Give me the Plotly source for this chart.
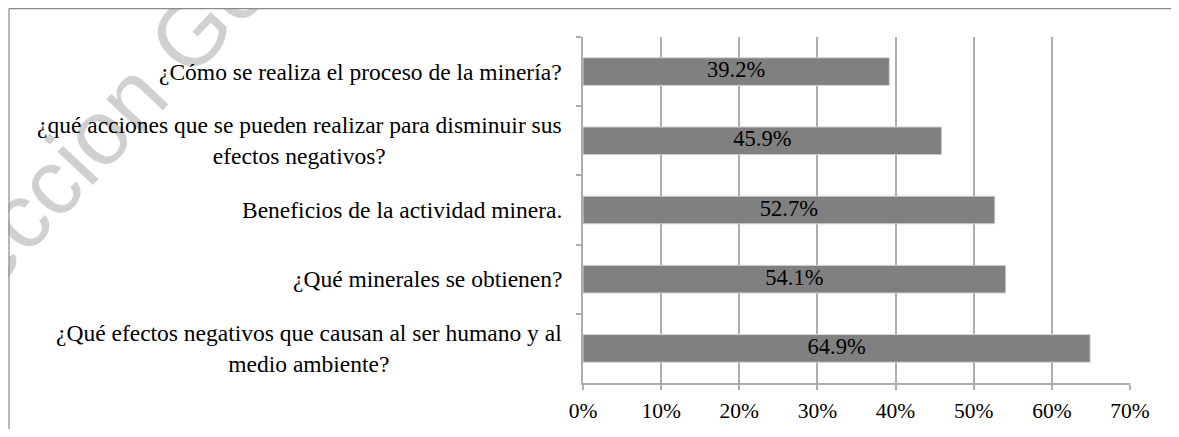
import plotly.graph_objects as go

categories = [
    "¿Cómo se realiza el proceso de la minería?",
    "¿qué acciones que se pueden realizar para disminuir sus<br>efectos negativos?",
    "Beneficios de la actividad minera.",
    "¿Qué minerales se obtienen?",
    "¿Qué efectos negativos que causan al ser humano y al<br>medio ambiente?",
]
values = [39.2, 45.9, 52.7, 54.1, 64.9]
value_labels = [f"{v:.1f}%" for v in values]
x_ticks = [0, 10, 20, 30, 40, 50, 60, 70]
x_tick_labels = [f"{t}%" for t in x_ticks]
watermark_text = "Direccion General"

# the page body adds an 8px margin, so the figure is laid out in page px - 8
OFF = 8
W, H = 1179 - OFF, 437 - 2 * OFF
PLOT_L, PLOT_R, PLOT_T, PLOT_B = 583 - OFF, 1130 - OFF, 37 - OFF, 383 - OFF
ML, MR, MT, MB = PLOT_L, W - PLOT_R, PLOT_T, H - PLOT_B
PW, PH = PLOT_R - PLOT_L, PLOT_B - PLOT_T

def px(x):  # page pixel -> paper x
    return (x - OFF - ML) / PW

def py(y):  # page pixel -> paper y
    return (PLOT_B - (y - OFF)) / PH

SERIF = "Liberation Serif"
GRID = "#adadad"

fig = go.Figure()
fig.add_trace(go.Bar(
    x=values, y=categories, orientation="h",
    marker=dict(color="#808080", line=dict(color="#d4d4d4", width=1)),
    hoverinfo="skip", showlegend=False,
))
fig.add_trace(go.Scatter(
    x=[v / 2 for v in values], y=categories, mode="text",
    text=value_labels, textposition="middle center",
    textfont=dict(family=SERIF, size=22.5, color="#000000"),
    hoverinfo="skip", showlegend=False, cliponaxis=False,
))

for cat in categories:
    fig.add_annotation(
        x=0, xref="paper", y=cat, yref="y", text=cat,
        xanchor="right", yanchor="middle", align="center", xshift=-19,
        showarrow=False, font=dict(family=SERIF, size=23.5, color="#000000"),
    )

# frame (top and left edges visible)
fig.add_shape(type="line", xref="paper", yref="paper",
              x0=px(9), y0=py(8.6), x1=px(1179), y1=py(8.6),
              line=dict(color="#8a8a8a", width=1.2))
fig.add_shape(type="line", xref="paper", yref="paper",
              x0=px(9), y0=py(8.6), x1=px(9), y1=py(437),
              line=dict(color="#8a8a8a", width=1.2))

# watermark, drawn beneath everything
cx, cy, half = 132, 83, 100
dx, dy = 0.682 * half, 0.731 * half
fig.add_shape(type="line", xref="paper", yref="paper", layer="below",
              x0=px(cx - dx), y0=py(cy + dy), x1=px(cx + dx), y1=py(cy - dy),
              line=dict(color="rgba(0,0,0,0)", width=0),
              label=dict(text=watermark_text, textposition="middle", yanchor="middle",
                         font=dict(family="Liberation Sans", size=92,
                                   color="#d0d0d0")))

fig.update_layout(
    width=W, height=H,
    margin=dict(l=ML, r=MR, t=MT, b=MB, autoexpand=False),
    paper_bgcolor="white", plot_bgcolor="white",
    bargap=0.6,
    font=dict(family=SERIF, color="#000000"),
)
fig.update_xaxes(
    range=[0, 70], tickvals=x_ticks, ticktext=x_tick_labels,
    showgrid=True, gridcolor=GRID, gridwidth=1.5,
    showline=True, linecolor=GRID, linewidth=1.5,
    ticks="outside", ticklen=5, tickcolor=GRID, tickwidth=1.5,
    tickfont=dict(family=SERIF, size=21.5, color="#000000"),
    ticklabelstandoff=2, zeroline=False, fixedrange=True,
)
fig.update_yaxes(
    autorange="reversed", showticklabels=False,
    showline=True, linecolor=GRID, linewidth=1.5,
    ticks="outside", ticklen=5, tickcolor=GRID, tickwidth=1.5,
    tickson="boundaries", showgrid=False, fixedrange=True,
)

fig.write_html("out.html", config={"displayModeBar": False})
